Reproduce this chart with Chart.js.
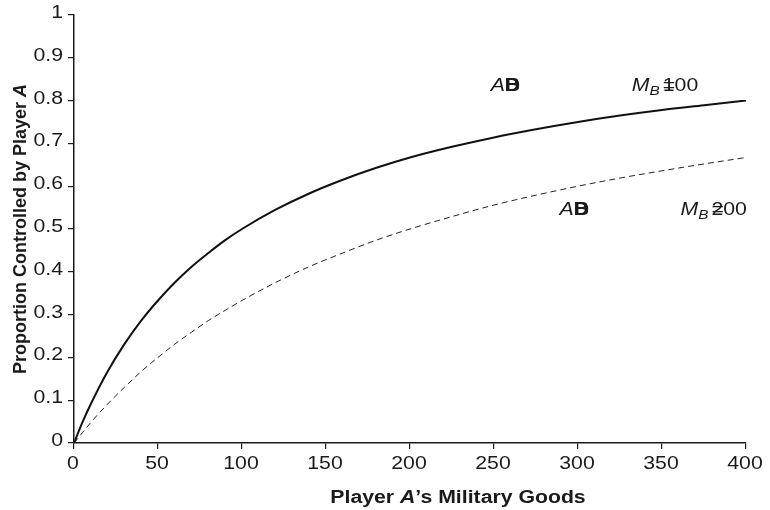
<!DOCTYPE html>
<html>
<head>
<meta charset="utf-8">
<script src="https://cdn.jsdelivr.net/npm/chart.js@4"></script>
<style>
  html, body { margin: 0; padding: 0; background: #fff; }
  #wrap { width: 770px; height: 510px; }
</style>
</head>
<body>
<div id="wrap"><canvas id="c" width="770" height="510"></canvas></div>
<script>
// Player A's military goods (x) and the share of territory A controls
const goodsA = [0, 5, 10, 20, 30, 40, 50, 60, 70, 80, 90, 100, 120, 140, 160, 180, 200, 225, 250, 275, 300, 325, 350, 375, 400];
// opponent holding 100 units
const shareMB100 = [0, 0.048, 0.091, 0.167, 0.231, 0.286, 0.333, 0.375, 0.412, 0.444, 0.474, 0.5, 0.545, 0.583, 0.615, 0.643, 0.667, 0.692, 0.714, 0.733, 0.75, 0.765, 0.778, 0.789, 0.8];
// opponent holding 200 units
const shareMB200 = [0, 0.024, 0.048, 0.091, 0.130, 0.167, 0.2, 0.231, 0.259, 0.286, 0.310, 0.333, 0.375, 0.412, 0.444, 0.474, 0.5, 0.529, 0.556, 0.579, 0.6, 0.619, 0.636, 0.652, 0.667];

const xTicks = [0, 50, 100, 150, 200, 250, 300, 350, 400];
const yTicks = [0, 0.1, 0.2, 0.3, 0.4, 0.5, 0.6, 0.7, 0.8, 0.9, 1];

const curveLabels = ['100', '200'];
const labelLevels = [0.835, 0.545];
const markerX = [248, 289];
const tagX = [332, 361];

const FONT = '"Liberation Sans", Arial, Helvetica, sans-serif';
const INK = '#1a1a1a';
const WIDEN = 1.18;   // horizontal type is set a little wide

const toPoints = (xs, ys) => xs.map((x, i) => ({ x: x, y: ys[i] }));

// draw a run of [font, text] pieces, widened horizontally; returns its width
function widenedRun(ctx, parts, x, y, align) {
  let w = 0;
  parts.forEach(p => { ctx.font = p[0]; w += ctx.measureText(p[1]).width; });
  w *= WIDEN;
  let start = x;
  if (align === 'center') start = x - w / 2;
  if (align === 'right') start = x - w;
  ctx.save();
  ctx.translate(start, y);
  ctx.scale(WIDEN, 1);
  ctx.textAlign = 'left';
  let cx = 0;
  parts.forEach(p => {
    ctx.font = p[0];
    const dy = p[2] || 0;
    ctx.fillText(p[1], cx, dy);
    if (!p[3]) cx += ctx.measureText(p[1]).width;
  });
  ctx.restore();
  return w;
}

const textPlugin = {
  id: 'textLayer',
  afterDraw(chart) {
    const ctx = chart.ctx;
    const xs = chart.scales.x, ys = chart.scales.y;
    const area = chart.chartArea;
    const tickFont = '18px ' + FONT;
    ctx.save();
    ctx.fillStyle = INK;

    // tick labels
    ctx.textBaseline = 'middle';
    ys.ticks.forEach(t => {
      widenedRun(ctx, [[tickFont, t.label]], area.left - 11, ys.getPixelForValue(t.value) - 2, 'right');
    });
    ctx.textBaseline = 'top';
    xs.ticks.forEach(t => {
      widenedRun(ctx, [[tickFont, t.label]], xs.getPixelForValue(t.value) - 1, 455, 'center');
    });

    // x-axis title
    ctx.textBaseline = 'alphabetic';
    widenedRun(ctx, [
      ['bold 18px ' + FONT, 'Player '],
      ['italic bold 18px ' + FONT, 'A'],
      ['bold 18px ' + FONT, '\u2019s Military Goods']
    ], 458, 503, 'center');

    // y-axis title, rotated
    const partsY = [
      ['bold 18px ' + FONT, 'Proportion Controlled by Player '],
      ['italic bold 18px ' + FONT, 'A']
    ];
    let total = 0;
    partsY.forEach(p => { ctx.font = p[0]; total += ctx.measureText(p[1]).width; });
    ctx.save();
    ctx.translate(26, (area.top + area.bottom) / 2);
    ctx.rotate(-Math.PI / 2);
    let cy = -total / 2;
    ctx.textAlign = 'left';
    partsY.forEach(p => { ctx.font = p[0]; ctx.fillText(p[1], cy, 0); cy += ctx.measureText(p[1]).width; });
    ctx.restore();

    // curve tags
    ctx.textBaseline = 'middle';
    for (let i = 0; i < curveLabels.length; i++) {
      const py = ys.getPixelForValue(labelLevels[i]);
      widenedRun(ctx, [
        ['italic 18px ' + FONT, 'A'],
        ['bold 18px ' + FONT, 'D', 0, true],
        ['bold 18px ' + FONT, 'B']
      ], xs.getPixelForValue(markerX[i]), py, 'left');

      ctx.font = '18px ' + FONT;
      const dw = ctx.measureText(curveLabels[i][0]).width;
      const ew = ctx.measureText('=').width;
      widenedRun(ctx, [
        ['italic 18px ' + FONT, 'M'],
        ['italic 13px ' + FONT, 'B\u2009', 6],
        ['18px ' + FONT, '=', 0, true],
        ['18px ' + FONT, curveLabels[i]]
      ], xs.getPixelForValue(tagX[i]), py, 'left');
      void dw; void ew;
    }
    ctx.restore();
  }
};

new Chart(document.getElementById('c'), {
  type: 'scatter',
  data: {
    datasets: [
      {
        label: 'M_B = 100',
        data: toPoints(goodsA, shareMB100),
        showLine: true,
        borderColor: '#111',
        borderWidth: 2,
        pointRadius: 0,
        cubicInterpolationMode: 'monotone',
        fill: false
      },
      {
        label: 'M_B = 200',
        data: toPoints(goodsA, shareMB200),
        showLine: true,
        borderColor: '#222',
        borderWidth: 1,
        borderDash: [6, 4],
        pointRadius: 0,
        cubicInterpolationMode: 'monotone',
        fill: false
      }
    ]
  },
  options: {
    responsive: false,
    animation: false,
    layout: { padding: { left: 30, right: 24, top: 15, bottom: 40 } },
    plugins: {
      legend: { display: false },
      tooltip: { enabled: false }
    },
    scales: {
      x: {
        type: 'linear',
        min: 0,
        max: 400,
        afterBuildTicks(scale) { scale.ticks = xTicks.map(v => ({ value: v })); },
        afterFit(scale) { scale.height = 27; },
        ticks: { display: false, callback: v => String(v) },
        grid: { drawOnChartArea: false, drawTicks: true, tickLength: 6, color: INK, lineWidth: 1.2 },
        border: { display: true, color: INK, width: 1.5 }
      },
      y: {
        type: 'linear',
        min: 0,
        max: 1,
        afterBuildTicks(scale) { scale.ticks = yTicks.map(v => ({ value: v })); },
        afterFit(scale) { scale.width = 44; },
        ticks: { display: false, callback: v => String(Math.round(v * 10) / 10) },
        grid: { drawOnChartArea: false, drawTicks: true, tickLength: 6, color: INK, lineWidth: 1.2 },
        border: { display: true, color: INK, width: 1.5 }
      }
    }
  },
  plugins: [textPlugin]
});
</script>
</body>
</html>
